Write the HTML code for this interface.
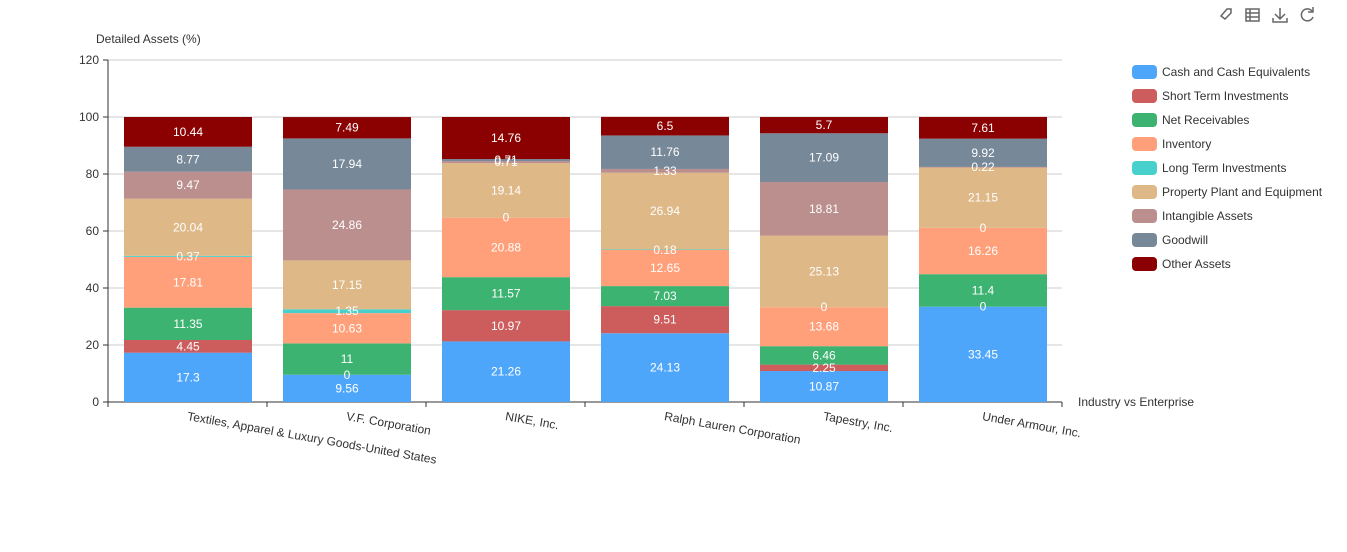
<!DOCTYPE html>
<html><head><meta charset="utf-8"><style>
body{margin:0;background:#fff;}
svg{display:block;font-family:"Liberation Sans",Arial,sans-serif;}
</style></head><body>
<svg id="c" width="1347" height="552" xmlns="http://www.w3.org/2000/svg">
<g id="grid"></g>
<g id="bars"></g>
<text x="96" y="43" font-size="12" fill="#333">Detailed Assets (%)</text>
<text x="1078" y="406" font-size="12" fill="#333">Industry vs Enterprise</text>
<g id="legend"></g>
<g fill="none" stroke="#666" stroke-width="1.5">
<rect x="1246" y="9" width="13" height="12"/><line x1="1246" y1="13" x2="1259" y2="13"/><line x1="1246" y1="17" x2="1259" y2="17"/><line x1="1250" y1="9" x2="1250" y2="21"/>
<path d="M1280 8v11M1275 14l5 5 5-5M1273 18v4h14v-4"/>
<path d="M1312 11a6 6 0 1 0 1 6M1313 7v5h-5"/>
<path d="M1221 16l6-7h4v4l-6 6z"/>
</g>
</svg>
<script>
const NS="http://www.w3.org/2000/svg";
function el(p,t,a,txt){const e=document.createElementNS(NS,t);for(const k in a)e.setAttribute(k,a[k]);if(txt!==undefined)e.textContent=txt;p.appendChild(e);return e;}
const g=document.getElementById('grid');
const y0=402,ppu=2.85;
for(let v=0;v<=120;v+=20){const y=y0-v*ppu;
 if(v>0)el(g,'line',{x1:108,x2:1062,y1:y,y2:y,stroke:'#ccc','stroke-width':1});
 el(g,'line',{x1:103,x2:108,y1:y,y2:y,stroke:'#333'});
 el(g,'text',{x:99,y:y+4,'font-size':12,fill:'#333','text-anchor':'end'},v);}
el(g,'line',{x1:108,x2:108,y1:60,y2:402,stroke:'#333'});
el(g,'line',{x1:108,x2:1062,y1:402,y2:402,stroke:'#333'});
for(let i=0;i<=6;i++){const x=108+i*159;el(g,'line',{x1:x,x2:x,y1:402,y2:407,stroke:'#333'});}
const colors=['#4ea6fb','#cd5c5c','#3cb371','#ffa07a','#48d1cc','#deb887','#bc8f8f','#778899','#8b0000'];
const names=['Cash and Cash Equivalents','Short Term Investments','Net Receivables','Inventory','Long Term Investments','Property Plant and Equipment','Intangible Assets','Goodwill','Other Assets'];
const data=[[17.3,4.45,11.35,17.81,0.37,20.04,9.47,8.77,10.44],[9.56,0,11,10.63,1.35,17.15,24.86,17.94,7.49],[21.26,10.97,11.57,20.88,0,19.14,0.71,0.71,14.76],[24.13,9.51,7.03,12.65,0.18,26.94,1.33,11.76,6.5],[10.87,2.25,6.46,13.68,0,25.13,18.81,17.09,5.7],[33.45,0,11.4,16.26,0,21.15,0.22,9.92,7.61]];
const cats=['Textiles, Apparel & Luxury Goods-United States','V.F. Corporation','NIKE, Inc.','Ralph Lauren Corporation','Tapestry, Inc.','Under Armour, Inc.'];
const b=document.getElementById('bars');
data.forEach((d,i)=>{let acc=0;const x=124+i*159;const lab=[];
 d.forEach((v,j)=>{const yt=y0-(acc+v)*ppu,h=v*ppu;el(b,'rect',{x:x,y:yt,width:128,height:h,fill:colors[j]});lab.push([yt+h/2,v]);acc+=v;});
 lab.forEach(([y,v])=>el(b,'text',{x:x+64,y:y+4,'font-size':12,fill:'#fff','text-anchor':'middle'},v));
 const cx=108+i*159+79.5;
 el(b,'text',{x:cx,y:420,'font-size':12,fill:'#333',transform:`rotate(10 ${cx} 416)`},cats[i]);
});
const lg=document.getElementById('legend');
names.forEach((n,i)=>{const y=65+i*24;el(lg,'rect',{x:1132,y:y,width:25,height:14,rx:4,fill:colors[i]});el(lg,'text',{x:1162,y:y+11,'font-size':12,fill:'#333'},n);});
</script>
</body></html>
